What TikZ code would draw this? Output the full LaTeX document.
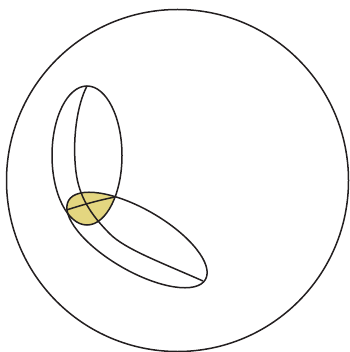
\documentclass[tikz,border=0pt]{standalone}
\begin{document}
\begin{tikzpicture}[x=1pt,y=-1pt,
  line/.style={draw=ink,line width=1.5pt},
  vert/.style={},
]
\definecolor{ink}{RGB}{35,31,32}
\definecolor{yel}{RGB}{228,214,128}
\useasboundingbox (0,0) rectangle (349,352);
% yellow intersection
\begin{scope}
  \clip (87,155.5) ellipse [x radius=35, y radius=69.5];
  \fill[yel, rotate around={-30:(137,240)}] (137,240) ellipse [x radius=79, y radius=31];
\end{scope}
% big circle
\draw[line] (177.5,180.5) circle [radius=171];
% vertical ellipse
\draw[line] (87,155.5) ellipse [x radius=35, y radius=69.5];
% diagonal ellipse
\draw[line, rotate around={-30:(137,240)}] (137,240) ellipse [x radius=79, y radius=31];
% meridian
\coordinate (top) at (87,86);
\coordinate (m1) at (76,172);
\coordinate (m2) at (110,234);
\coordinate (endR) at (203,281);
\draw[line] (top) .. controls (77,105) and (72,140) .. (m1)
  .. controls (79,196) and (90,214) .. (m2)
  .. controls (125,249) and (160,262) .. (endR);
% chord across yellow
\coordinate (cl) at (66.5,210);
\coordinate (cr) at (115,197);
\draw[line] (cl) .. controls (85,204) and (100,200) .. (cr);
\end{tikzpicture}
\end{document}
